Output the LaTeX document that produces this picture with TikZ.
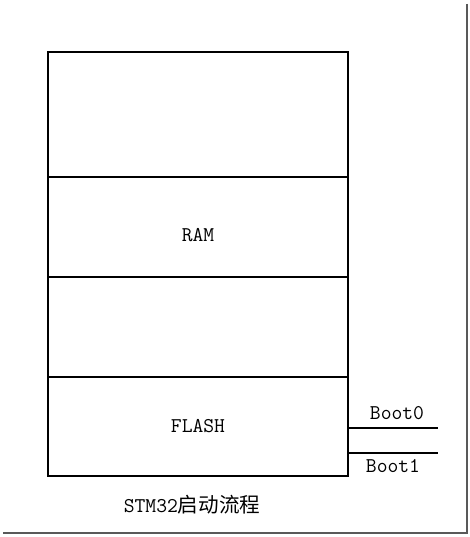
\documentclass[tikz,border=0pt]{standalone}
\usepackage{fontspec}
\newfontfamily\cjk{Noto Sans CJK SC}[Scale=0.98]
\usetikzlibrary{positioning}

\tikzset{
    blk/.style={draw, line width=1.2pt, minimum width=300pt, inner sep=0pt, outer sep=0pt},
    lbl/.style={font=\ttfamily\fontsize{21}{24}\selectfont, inner sep=1pt}
}

\begin{document}
\begin{tikzpicture}[x=1pt,y=-1pt]

\useasboundingbox (0,0) rectangle (470,537);

% Screenshot shadow
\draw[line width=2pt, black!65] (467,4) -- (467,533) -- (3,533);

% Memory blocks
\node[blk, minimum height=125pt] (top) at (198,114.5) {};
\node[blk, minimum height=100pt, below=0pt of top] (ram) {};
\node[blk, minimum height=100pt, below=0pt of ram] (mid) {};
\node[blk, minimum height=99pt, below=0pt of mid] (flash) {};

\node[lbl] (ramtxt) at ([yshift=-8pt]ram.center) {RAM};
\node[lbl] (flashtxt) at (flash) {FLASH};

% Boot pins
\coordinate (b0) at (438,428);
\coordinate (b1) at (438,453);
\draw[line width=1.2pt] (flash.east |- b0) -- (b0);
\draw[line width=1.2pt] (flash.east |- b1) -- (b1);
\node[lbl] (boot0) at (397,413) {Boot0};
\node[lbl] (boot1) at (393,466) {Boot1};

\node[lbl] (cap) at (192,505) {STM32{\cjk 启动流程}};

\end{tikzpicture}
\end{document}
